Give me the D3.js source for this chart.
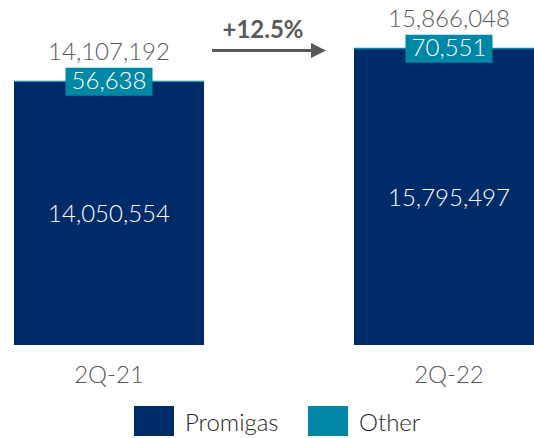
<!DOCTYPE html>
<html>
<head>
<meta charset="utf-8">
<script src="https://cdn.jsdelivr.net/npm/d3@7"></script>
<style>
  html, body { margin: 0; padding: 0; background: #fff; }
  svg { display: block; font-family: Lato, "Open Sans", sans-serif; font-weight: 300; }
</style>
</head>
<body>
<svg id="chart" width="534" height="438"></svg>
<script>
const categories = ["2Q-21", "2Q-22"];
const promigas = [14050554, 15795497];
const other = [56638, 70551];
const totals = [14107192, 15866048];
const seriesNames = ["Promigas", "Other"];
const growthLabel = "+12.5%";

const colors = { Promigas: "#002b69", Other: "#0087a6" };
const svg = d3.select("#chart");
const fmt = d3.format(",");

const x = d3.scaleBand().domain(categories).range([14, 544]).paddingInner(0.441).paddingOuter(0);
const y = d3.scaleLinear().domain([0, 18415000]).range([345, 0]);

const rows = categories.map((c, i) => ({ cat: c, Promigas: promigas[i], Other: other[i], total: totals[i] }));
const stacked = d3.stack().keys(seriesNames)(rows);

svg.append("g").selectAll("g").data(stacked).join("g")
  .attr("fill", d => colors[d.key])
  .selectAll("rect").data(d => d).join("rect")
  .attr("x", d => x(d.data.cat))
  .attr("width", x.bandwidth())
  .attr("y", d => y(d[1]))
  .attr("height", d => Math.max(1, y(d[0]) - y(d[1])));

const cx = d => x(d.cat) + x.bandwidth() / 2;

// inner Promigas labels
svg.append("g").selectAll("text").data(rows).join("text")
  .attr("x", cx)
  .attr("y", d => (y(0) + y(d.Promigas)) / 2)
  .attr("dy", "0.36em")
  .attr("text-anchor", "middle")
  .attr("fill", "#ffffff")
  .attr("font-size", 24)
  .text(d => fmt(d.Promigas));

// Other label boxes
const og = svg.append("g").selectAll("g").data(rows).join("g")
  .attr("transform", d => `translate(${cx(d)},${y(d.total)})`);
og.append("rect")
  .attr("x", -43.5).attr("y", -13).attr("width", 87).attr("height", 28)
  .attr("fill", colors.Other);
og.append("text")
  .attr("y", 8.5)
  .attr("text-anchor", "middle")
  .attr("fill", "#ffffff")
  .attr("font-size", 24)
  .text(d => fmt(d.Other));

// totals
svg.append("g").selectAll("text").data(rows).join("text")
  .attr("x", cx)
  .attr("y", d => y(d.total) - 21)
  .attr("text-anchor", "middle")
  .attr("fill", "#595959")
  .attr("font-size", 24)
  .text(d => fmt(d.total));

// category labels
svg.append("g").selectAll("text").data(categories).join("text")
  .attr("x", d => x(d) + x.bandwidth() / 2)
  .attr("y", 383)
  .attr("text-anchor", "middle")
  .attr("fill", "#595959")
  .attr("font-size", 24)
  .text(d => d);

// growth arrow
const defs = svg.append("defs");
defs.append("marker").attr("id", "ah")
  .attr("viewBox", "0 0 10 10").attr("refX", 0).attr("refY", 5)
  .attr("markerWidth", 5).attr("markerHeight", 5.4).attr("orient", "auto")
  .attr("markerUnits", "strokeWidth")
  .append("path").attr("d", "M0,0 L10,5 L0,10 Z").attr("fill", "#595959");
svg.append("line")
  .attr("x1", 212).attr("x2", 311).attr("y1", 50.5).attr("y2", 50.5)
  .attr("stroke", "#595959").attr("stroke-width", 3)
  .attr("marker-end", "url(#ah)");
svg.append("text")
  .attr("x", 263).attr("y", 38)
  .attr("text-anchor", "middle")
  .attr("fill", "#595959")
  .attr("font-size", 24)
  .attr("font-weight", "bold")
  .text(growthLabel);

// legend
const legX = [134, 308];
const lg = svg.append("g").selectAll("g").data(seriesNames).join("g")
  .attr("transform", (d, i) => `translate(${legX[i]},406)`);
lg.append("rect").attr("width", 40).attr("height", 30).attr("fill", d => colors[d]);
lg.append("text").attr("x", 51).attr("y", 25)
  .attr("fill", "#262626").attr("font-size", 24).text(d => d);
</script>
</body>
</html>
